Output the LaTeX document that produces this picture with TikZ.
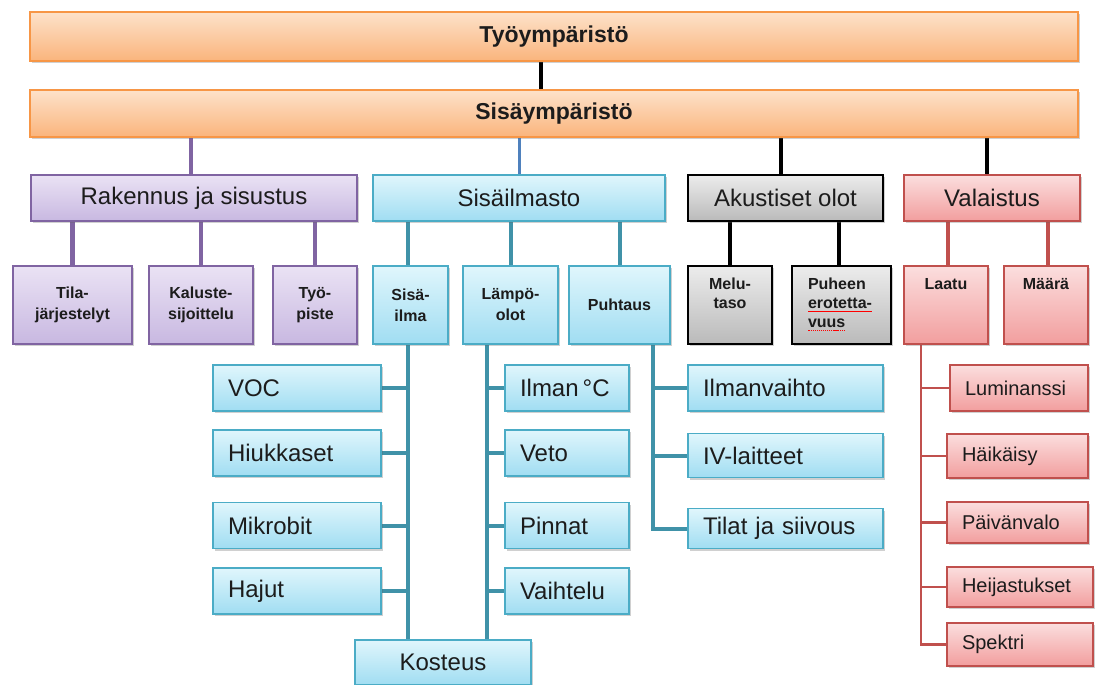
\documentclass[tikz,border=0pt]{standalone}
\usepackage{fontspec}
\setmainfont{Liberation Sans}
\usetikzlibrary{shadows,calc,backgrounds}
\definecolor{orB}{RGB}{247,150,70}
\definecolor{orT}{RGB}{253,226,202}
\definecolor{orD}{RGB}{250,180,124}
\definecolor{puB}{RGB}{128,100,162}
\definecolor{puT}{RGB}{234,226,244}
\definecolor{puD}{RGB}{200,184,225}
\definecolor{blB}{RGB}{75,172,198}
\definecolor{blT}{RGB}{224,246,252}
\definecolor{blD}{RGB}{160,221,242}
\definecolor{blL}{RGB}{79,129,189}
\definecolor{grT}{RGB}{236,236,236}
\definecolor{grD}{RGB}{186,186,186}
\definecolor{rdB}{RGB}{192,80,77}
\definecolor{rdT}{RGB}{251,222,222}
\definecolor{rdD}{RGB}{242,158,158}
\definecolor{txt}{RGB}{28,28,28}
\newcommand\redsq[1]{\leavevmode\setbox0\hbox{#1}\rlap{\color{red}\hbox to \wd0{\xleaders\hbox to 2pt{\hss\vrule width 1.2pt height -2.2pt depth 3.4pt\hss}\hfill}}#1}
\begin{document}
\begin{tikzpicture}[x=1pt,y=-1pt,
  box/.style={draw, rectangle, inner sep=0pt, text=txt,
    drop shadow={shadow xshift=1.5pt, shadow yshift=-2pt, opacity=0.3, fill=black!60}},
  ob/.style={box, draw=orB, line width=1.5pt, top color=orT, bottom color=orD,
    font=\fontsize{23}{27}\selectfont\bfseries},
  pu/.style={box, draw=puB, line width=2pt, top color=puT, bottom color=puD},
  bl/.style={box, draw=blB, line width=1.8pt, top color=blT, bottom color=blD},
  gr/.style={box, draw=black, line width=2pt, top color=grT, bottom color=grD},
  rd/.style={box, draw=rdB, line width=1.6pt, top color=rdT, bottom color=rdD},
  lvtwo/.style={font=\fontsize{24}{28}\selectfont, minimum height=46pt},
  lvthree/.style={font=\fontsize{16}{21}\selectfont\bfseries, align=center, minimum height=78pt},
  lvthreeg/.style={font=\fontsize{16}{19}\selectfont\bfseries, align=center, minimum height=78pt},
  lvfour/.style={font=\fontsize{24}{28}\selectfont, align=left, inner xsep=15pt},
  lvfourr/.style={font=\fontsize{20}{24}\selectfont, align=left, inner xsep=15pt},
  cbk/.style={draw=black, line width=4pt},
  cpu/.style={draw=puB, line width=4.5pt},
  cbll/.style={draw=blL, line width=3pt},
  cbl/.style={draw=blB!85!black, line width=4pt},
  crd/.style={draw=rdB, line width=4pt},
  crdt/.style={draw=rdB, line width=2.5pt}]
\useasboundingbox (0,0) rectangle (1095,685);

% level 0/1
\node[ob, minimum width=1048pt, minimum height=49pt] (tyo) at (554,36.5) {Työympäristö};
\node[ob, minimum width=1048pt, minimum height=47pt] (sis) at (554,113.5) {Sisäympäristö};

% level 2
\node[pu, lvtwo, minimum width=326pt] (rak) at (194,198) {Rakennus ja sisustus};
\node[bl, lvtwo, minimum width=292pt] (ilm) at (519,198) {Sisäilmasto};
\node[gr, lvtwo, minimum width=195pt] (aku) at (785.5,198) {Akustiset olot};
\node[rd, lvtwo, minimum width=176pt] (val) at (992,198) {Valaistus};

% level 3
\node[pu, lvthree, minimum width=119pt] (tila) at (72.5,305) {Tila-\\järjestelyt};
\node[pu, lvthree, minimum width=104pt] (kal) at (201,305) {Kaluste-\\sijoittelu};
\node[pu, lvthree, minimum width=84pt] (tp) at (315,305) {Työ-\\piste};
\node[bl, lvthree, minimum width=75pt] (si) at (410.5,305) {Sisä-\\ilma};
\node[bl, lvthree, minimum width=95pt] (lo) at (510.5,305) {Lämpö-\\olot};
\node[bl, lvthree, minimum width=101pt] (pt) at (619.5,305) {Puhtaus};
\node[gr, lvthreeg, minimum width=84pt] (mt) at (730,305) {\parbox[c][54pt][t]{80pt}{\centering Melu-\\taso}};
\node[gr, lvthreeg, minimum width=99pt] (pe) at (841.5,305) {\parbox[c][54pt][t]{67pt}{\raggedright Puheen\\\redsq{erotetta-}\\\redsq{vuus}}};
\node[rd, lvthreeg, minimum width=84pt] (la) at (946,305) {\parbox[c][54pt][t]{80pt}{\centering Laatu}};
\node[rd, lvthreeg, minimum width=84pt] (ma) at (1046,305) {\parbox[c][54pt][t]{80pt}{\centering Määrä}};

% level 4, Sisä-ilma
\node[bl, lvfour, text width=138pt, minimum height=46pt] (voc) at (297,388) {VOC};
\node[bl, lvfour, text width=138pt, minimum height=46pt] (hiu) at (297,453) {Hiukkaset};
\node[bl, lvfour, text width=138pt, minimum height=46pt] (mik) at (297,525.5) {Mikrobit};
\node[bl, lvfour, text width=138pt, minimum height=46pt] (haj) at (297,591) {Hajut};
% Lämpöolot
\node[bl, lvfour, text width=94pt, minimum height=46pt] (ilc) at (567,388) {Ilman\,°C};
\node[bl, lvfour, text width=94pt, minimum height=46pt] (vet) at (567,453) {Veto};
\node[bl, lvfour, text width=94pt, minimum height=46pt] (pin) at (567,525.5) {Pinnat};
\node[bl, lvfour, text width=94pt, minimum height=46pt] (vai) at (567,591) {Vaihtelu};
% Kosteus
\node[bl, lvtwo, minimum width=176pt, minimum height=45pt] (kos) at (443,662.5) {Kosteus};
% Puhtaus
\node[bl, lvfour, text width=165pt, minimum height=46pt] (ilv) at (785.5,388) {Ilmanvaihto};
\node[bl, lvfour, text width=165pt, minimum height=44pt] (ivl) at (785.5,455.5) {IV-laitteet};
\node[bl, lvfour, text width=165pt, minimum height=40pt] (tjs) at (785.5,528.5) {Tilat ja siivous};
% Laatu
\node[rd, lvfourr, text width=108pt, minimum height=46pt] (lum) at (1019,388) {Luminanssi};
\node[rd, lvfourr, text width=111pt, minimum height=44pt] (hai) at (1017.5,456) {Häikäisy};
\node[rd, lvfourr, text width=111pt, minimum height=41pt] (pai) at (1017.5,522.5) {Päivänvalo};
\node[rd, lvfourr, text width=116pt, minimum height=40pt] (hei) at (1020,587) {Heijastukset};
\node[rd, lvfourr, text width=116pt, minimum height=43pt] (spe) at (1020,644.5) {Spektri};

\begin{scope}[on background layer]
\fill[white] (0,0) rectangle (1095,685);
% level 0 -> 1
\draw[cbk, line width=3.5pt] ($(tyo.south)+(-13,0)$) coordinate (t0) -- (t0 |- sis.north);
% level 1 -> 2
\draw[cpu, line width=3.5pt] ($(rak.north)+(-3,0)$) coordinate (r0) -- (r0 |- sis.south);
\draw[cbll] (ilm.north) -- (ilm.north |- sis.south);
\draw[cbk] ($(aku.north)+(-5,0)$) coordinate (a0) -- (a0 |- sis.south);
\draw[cbk] ($(val.north)+(-5,0)$) coordinate (v0) -- (v0 |- sis.south);
% level 2 -> 3
\draw[cpu] (tila.north) -- (tila.north |- rak.south);
\draw[cpu] (kal.north) -- (kal.north |- rak.south);
\draw[cpu] (tp.north) -- (tp.north |- rak.south);
\draw[cbl] ($(si.north)+(-3,0)$) coordinate (s0) -- (s0 |- ilm.south);
\draw[cbl] (lo.north) -- (lo.north |- ilm.south);
\draw[cbl] (pt.north) -- (pt.north |- ilm.south);
\draw[cbk] (mt.north) -- (mt.north |- aku.south);
\draw[cbk] ($(pe.north)+(-2.5,0)$) coordinate (p0) -- (p0 |- aku.south);
\draw[crd] ($(la.north)+(2,0)$) coordinate (l0) -- (l0 |- val.south);
\draw[crd] ($(ma.north)+(2,0)$) coordinate (m0) -- (m0 |- val.south);
% Sisä-ilma spine
\draw[cbl] ($(si.south)+(-3,0)$) coordinate (sp1) -- (sp1 |- kos.north);
\draw[cbl] (voc.east) -- (voc.east -| sp1);
\draw[cbl] (hiu.east) -- (hiu.east -| sp1);
\draw[cbl] (mik.east) -- (mik.east -| sp1);
\draw[cbl] (haj.east) -- (haj.east -| sp1);
% Lämpöolot spine
\draw[cbl] ($(lo.south)+(-23.5,0)$) coordinate (sp2) -- (sp2 |- kos.north);
\draw[cbl] (ilc.west) -- (ilc.west -| sp2);
\draw[cbl] (vet.west) -- (vet.west -| sp2);
\draw[cbl] (pin.west) -- (pin.west -| sp2);
\draw[cbl] (vai.west) -- (vai.west -| sp2);
% Puhtaus spine
\draw[cbl] ($(pt.south)+(33.5,0)$) coordinate (sp3) -- (sp3 |- tjs.west) -- (tjs.west);
\draw[cbl] (ilv.west) -- (ilv.west -| sp3);
\draw[cbl] (ivl.west) -- (ivl.west -| sp3);
% Laatu spine
\draw[crdt] ($(la.south)+(-25,0)$) coordinate (sp4) -- (sp4 |- spe.west) -- (spe.west);
\draw[crdt] (lum.west) -- (lum.west -| sp4);
\draw[crdt] (hai.west) -- (hai.west -| sp4);
\draw[crdt] (pai.west) -- (pai.west -| sp4);
\draw[crdt] (hei.west) -- (hei.west -| sp4);
\end{scope}
\end{tikzpicture}
\end{document}
